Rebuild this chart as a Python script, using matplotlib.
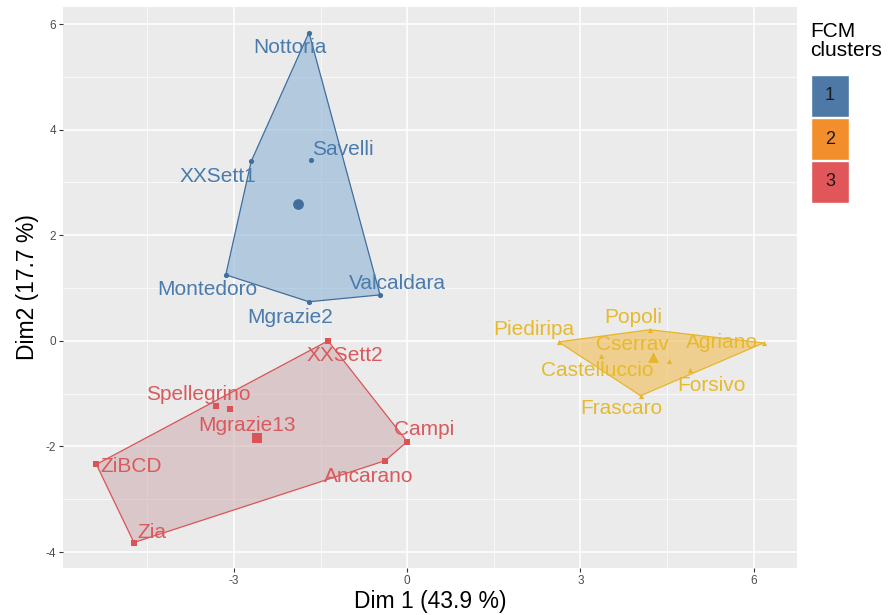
import numpy as np
import matplotlib.pyplot as plt
from matplotlib.patches import Polygon, Rectangle

plt.rcParams['font.family'] = ['Liberation Sans', 'DejaVu Sans']
plt.rcParams['axes.unicode_minus'] = False

# cluster 1 (blue)
names_c1 = ["Nottoria", "Savelli", "XXSett1", "Montedoro", "Mgrazie2", "Valcaldara"]
dim1_c1 = [-1.70, -1.66, -2.70, -3.14, -1.70, -0.47]
dim2_c1 = [5.84, 3.42, 3.40, 1.25, 0.74, 0.87]

# cluster 2 (yellow)
names_c2 = ["Piediripa", "Popoli", "Agriano", "Cserrav", "Castelluccio", "Forsivo", "Frascaro"]
dim1_c2 = [2.62, 4.20, 6.17, 4.53, 3.35, 4.89, 4.04]
dim2_c2 = [-0.02, 0.21, -0.04, -0.38, -0.28, -0.55, -1.04]

# cluster 3 (red)
names_c3 = ["XXSett2", "Spellegrino", "Mgrazie13", "Campi", "Ancarano", "ZiBCD", "Zia"]
dim1_c3 = [-1.37, -3.31, -3.07, 0.00, -0.38, -5.38, -4.73]
dim2_c3 = [0.00, -1.23, -1.30, -1.91, -2.27, -2.34, -3.82]

cluster_ids = ["1", "2", "3"]
x_ticks = [-3, 0, 3, 6]
y_ticks = [-4, -2, 0, 2, 4, 6]

# label offsets in pixels (right, down) as ggrepel placed them
label_offsets = {
    "Nottoria": (-19, 15), "Savelli": (32, -11), "XXSett1": (-33, 15),
    "Montedoro": (-18, 15), "Mgrazie2": (-19, 16), "Valcaldara": (17, -11),
    "Piediripa": (-25, -12), "Popoli": (-17, -12), "Agriano": (-42, 0),
    "Cserrav": (-36, -16), "Castelluccio": (-3, 15), "Forsivo": (22, 16),
    "Frascaro": (-19, 13),
    "XXSett2": (17, 15), "Spellegrino": (-18, -11), "Mgrazie13": (17, 16),
    "Campi": (17, -12), "Ancarano": (-17, 16), "ZiBCD": (35, 2), "Zia": (18, -10),
}


def convex_hull(xs, ys):
    # monotone chain hull
    pts = sorted(zip(xs, ys))

    def cross(o, a, b):
        return (a[0] - o[0]) * (b[1] - o[1]) - (a[1] - o[1]) * (b[0] - o[0])

    lower, upper = [], []
    for p in pts:
        while len(lower) >= 2 and cross(lower[-2], lower[-1], p) <= 0:
            lower.pop()
        lower.append(p)
    for p in reversed(pts):
        while len(upper) >= 2 and cross(upper[-2], upper[-1], p) <= 0:
            upper.pop()
        upper.append(p)
    return lower[:-1] + upper[:-1]


def draw_cluster(ax, names, xs, ys, marker, pt_color, txt_color, fill_color, fill_alpha):
    hull = convex_hull(xs, ys)
    ax.add_patch(Polygon(hull, closed=True, facecolor=fill_color, alpha=fill_alpha,
                         edgecolor='none', zorder=2))
    ax.add_patch(Polygon(hull, closed=True, facecolor='none', edgecolor=pt_color,
                         linewidth=0.9, zorder=3))
    ax.scatter(xs, ys, marker=marker, s=14, color=pt_color, zorder=4, linewidths=0)
    ax.scatter([np.mean(xs)], [np.mean(ys)], marker=marker, s=60, color=pt_color,
               zorder=4, linewidths=0)
    for name, x, y in zip(names, xs, ys):
        dx, dy = label_offsets[name]
        ax.annotate(name, (x, y), xytext=(dx, -dy), textcoords='offset pixels',
                    ha='center', va='center', fontsize=15, color=txt_color, zorder=5)


fig = plt.figure(figsize=(8.91, 6.15), dpi=100)
ax = fig.add_axes([63 / 891, 1 - 568 / 615, (797 - 63) / 891, (568 - 7) / 615])
ax.set_facecolor('#EBEBEB')

draw_cluster(ax, names_c1, dim1_c1, dim2_c1, 'o', '#3F6E9F', '#4A7BAD', '#8FB4D6', 0.6)
draw_cluster(ax, names_c3, dim1_c3, dim2_c3, 's', '#DA5457', '#D95A5D', '#C9A5A8', 0.5)
draw_cluster(ax, names_c2, dim1_c2, dim2_c2, '^', '#E6B62A', '#E7BA2C', '#F0C160', 0.65)

all_x = dim1_c1 + dim1_c2 + dim1_c3
all_y = dim2_c1 + dim2_c2 + dim2_c3
xpad = (max(all_x) - min(all_x)) * 0.05
ypad = (max(all_y) - min(all_y)) * 0.05
ax.set_xlim(min(all_x) - xpad, max(all_x) + xpad)
ax.set_ylim(min(all_y) - ypad, max(all_y) + ypad)

ax.set_xticks(x_ticks)
ax.set_yticks(y_ticks)
ax.set_xticks([-4.5, -1.5, 1.5, 4.5], minor=True)
ax.set_yticks([-3, -1, 1, 3, 5], minor=True)
ax.grid(True, which='major', color='white', linewidth=1.1, zorder=0)
ax.grid(True, which='minor', color='white', linewidth=0.5, zorder=0)
ax.set_axisbelow(True)
ax.tick_params(axis='both', which='major', labelsize=8.5, labelcolor='#4D4D4D',
               color='#333333', length=3, width=0.8, pad=2)
ax.tick_params(axis='both', which='minor', length=0)
for sp in ax.spines.values():
    sp.set_visible(False)

ax.set_xlabel('Dim 1 (43.9 %)', fontsize=16.5, labelpad=2)
ax.set_ylabel('Dim2 (17.7 %)', fontsize=16.5, labelpad=5)

# legend drawn by hand: numbered colour keys
fig.text(810 / 891, 1 - 22 / 615, 'FCM\nclusters', fontsize=15, ha='left', va='top',
         linespacing=1.0)
key_colors = ['#4E79A7', '#F28E2B', '#E15759']
key_top = 75
for i, (cid, kc) in enumerate(zip(cluster_ids, key_colors)):
    y0 = key_top + i * 43
    fig.patches.append(Rectangle((811 / 891, 1 - (y0 + 42) / 615), 38 / 891, 42 / 615,
                                 transform=fig.transFigure, facecolor=kc,
                                 edgecolor='white', linewidth=1))
    fig.text(830 / 891, 1 - (y0 + 21) / 615, cid, fontsize=13, ha='center', va='center',
             color='#1a1a1a')

plt.savefig('out.png', dpi=100)
